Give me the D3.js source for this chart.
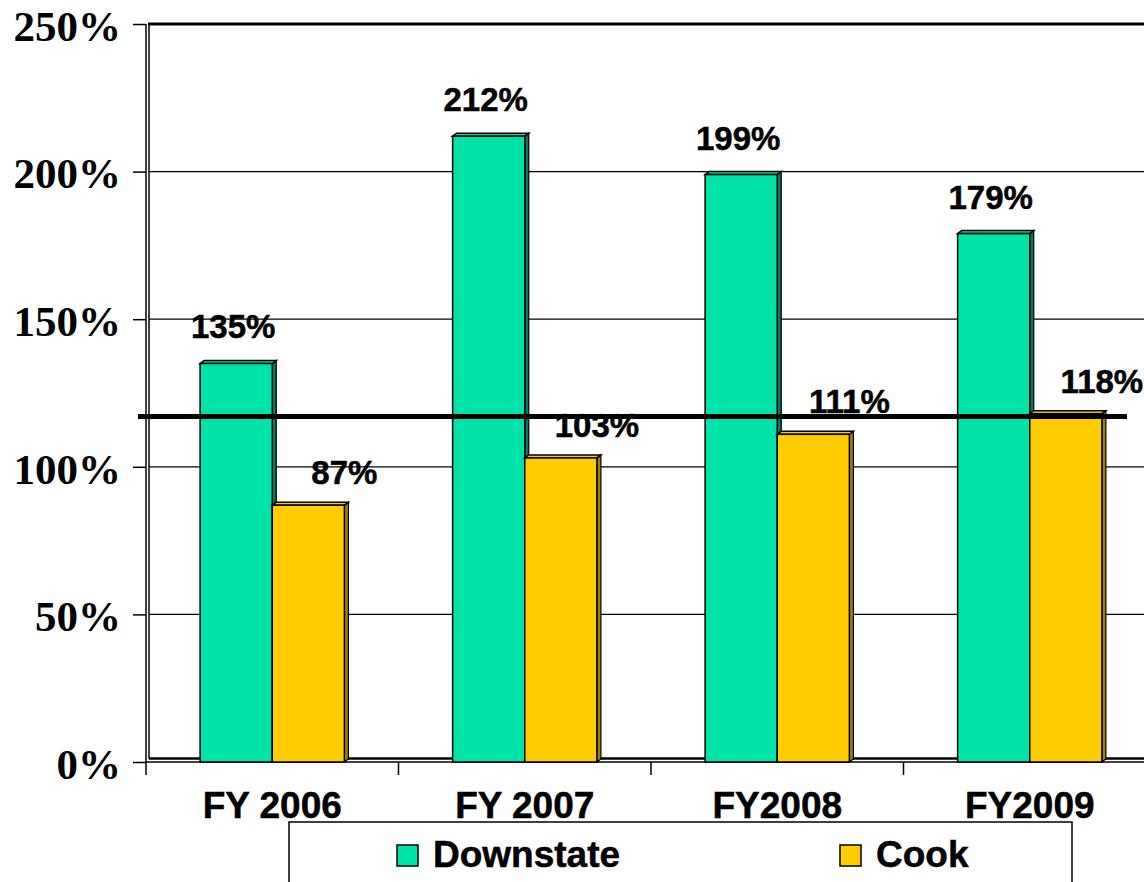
<!DOCTYPE html>
<html>
<head>
<meta charset="utf-8">
<script src="https://d3js.org/d3.v7.min.js"></script>
<style>
  body { margin: 0; background: #fff; }
  .tick-label { font-family: "Liberation Serif", "Times New Roman", serif; font-weight: bold; font-size: 43px; }
  .cat-label { font-family: "Liberation Sans", Arial, sans-serif; font-weight: bold; font-size: 37px; }
  .val-label { font-family: "Liberation Sans", Arial, sans-serif; font-weight: bold; font-size: 33px; }
  .legend-label { font-family: "Liberation Sans", Arial, sans-serif; font-weight: bold; font-size: 37px; }
  .cat-label, .val-label, .legend-label { stroke: #000; stroke-width: 0.5px; }
</style>
</head>
<body>
<div id="chart"></div>
<script>
// data
const categories = ["FY 2006", "FY 2007", "FY2008", "FY2009"];
const seriesNames = ["Downstate", "Cook"];
const downstate = [135, 212, 199, 179];
const cook = [87, 103, 111, 118];
const yTicks = [0, 50, 100, 150, 200, 250];
const targetValue = 117;

const colors = { Downstate: "#00E3A8", Cook: "#FFCC00" };
const sideColors = { Downstate: "#007A5C", Cook: "#A08200" };

const W = 1144, H = 882;
const left = 146, step = 252.5;
const depthX = 4, depthY = 3;

const svg = d3.select("#chart").append("svg")
  .attr("width", W).attr("height", H);

const x = d3.scaleBand()
  .domain(categories)
  .range([left, left + step * categories.length]);

const xs = d3.scaleBand()
  .domain(seriesNames)
  .range([0, x.bandwidth()])
  .paddingOuter(0.75);

const y = d3.scaleLinear().domain([0, 250]).range([762, 24]);

// gridlines (back wall)
svg.append("g").selectAll("line")
  .data(yTicks.filter(t => t > 0 && t < 250))
  .join("line")
  .attr("x1", left + 3).attr("x2", W)
  .attr("y1", d => y(d)).attr("y2", d => y(d))
  .attr("stroke", "#000").attr("stroke-width", 1.2);

// top edge
svg.append("line")
  .attr("x1", left + 2).attr("x2", W)
  .attr("y1", y(250)).attr("y2", y(250))
  .attr("stroke", "#000").attr("stroke-width", 3);

// back wall vertical + floor lines
svg.append("line")
  .attr("x1", left + 3).attr("x2", left + 3)
  .attr("y1", y(250)).attr("y2", y(0) - 3)
  .attr("stroke", "#000").attr("stroke-width", 1.5);
svg.append("line")
  .attr("x1", left + 3).attr("x2", W)
  .attr("y1", y(0) - 3.5).attr("y2", y(0) - 3.5)
  .attr("stroke", "#000").attr("stroke-width", 2.5);

// y axis
const yAxis = svg.append("g")
  .attr("transform", `translate(${left},0)`)
  .call(d3.axisLeft(y).tickValues(yTicks).tickSize(13).tickFormat(d => d + "%"));
yAxis.select(".domain").attr("stroke", "#000").attr("stroke-width", 1.5)
  .attr("d", `M0,${y(250)}V${y(0)}`);
yAxis.selectAll(".tick line").attr("stroke", "#000").attr("stroke-width", 1.5);
yAxis.selectAll(".tick text")
  .attr("class", "tick-label")
  .attr("x", -25).attr("dy", "0.38em")
  .attr("fill", "#000");

// x axis (ticks at category boundaries)
svg.append("line")
  .attr("x1", left).attr("x2", W)
  .attr("y1", y(0)).attr("y2", y(0))
  .attr("stroke", "#000").attr("stroke-width", 1.5);
svg.append("g").selectAll("line")
  .data(categories)
  .join("line")
  .attr("x1", d => x(d)).attr("x2", d => x(d))
  .attr("y1", y(0)).attr("y2", y(0) + 13)
  .attr("stroke", "#000").attr("stroke-width", 1.5);

svg.append("g").selectAll("text")
  .data(categories)
  .join("text")
  .attr("class", "cat-label")
  .attr("x", d => x(d) + x.bandwidth() / 2)
  .attr("y", 818)
  .attr("text-anchor", "middle")
  .text(d => d);

// bars
const rows = [];
categories.forEach((c, i) => {
  rows.push({ cat: c, series: "Downstate", value: downstate[i] });
  rows.push({ cat: c, series: "Cook", value: cook[i] });
});

const bars = svg.append("g").selectAll("g")
  .data(rows)
  .join("g");

bars.each(function (d) {
  const g = d3.select(this);
  const x0 = x(d.cat) + xs(d.series);
  const w = xs.bandwidth();
  const top = y(d.value), base = y(0);
  g.append("polygon")
    .attr("points", [[x0 + w, top], [x0 + w + depthX, top - depthY], [x0 + w + depthX, base - depthY], [x0 + w, base]].join(" "))
    .attr("fill", sideColors[d.series]).attr("stroke", "#000").attr("stroke-width", 1.2);
  g.append("polygon")
    .attr("points", [[x0, top], [x0 + depthX, top - depthY], [x0 + w + depthX, top - depthY], [x0 + w, top]].join(" "))
    .attr("fill", colors[d.series]).attr("stroke", "#000").attr("stroke-width", 1.5);
  g.append("rect")
    .attr("x", x0).attr("y", top).attr("width", w).attr("height", base - top)
    .attr("fill", colors[d.series]).attr("stroke", "#000").attr("stroke-width", 1.5);
});

// value labels
svg.append("g").selectAll("text")
  .data(rows)
  .join("text")
  .attr("class", "val-label")
  .attr("text-anchor", "middle")
  .attr("x", d => d.series === "Downstate"
    ? x(d.cat) + xs(d.series) + xs.bandwidth() / 2 - 3
    : x(d.cat) + xs(d.series) + xs.bandwidth())
  .attr("y", d => y(d.value) - (d.series === "Downstate" ? 25 : 21))
  .text(d => d.value + "%");

// target line
svg.append("line")
  .attr("x1", 138).attr("x2", 1127)
  .attr("y1", y(targetValue)).attr("y2", y(targetValue))
  .attr("stroke", "#000").attr("stroke-width", 5);

// legend
const legend = svg.append("g");
legend.append("rect")
  .attr("x", 289).attr("y", 822).attr("width", 783).attr("height", 80)
  .attr("fill", "#fff").attr("stroke", "#000").attr("stroke-width", 1.5);
const legendX = [397, 840];
seriesNames.forEach((s, i) => {
  legend.append("rect")
    .attr("x", legendX[i]).attr("y", 845).attr("width", 21).attr("height", 21)
    .attr("fill", colors[s]).attr("stroke", "#000").attr("stroke-width", 1.5);
  legend.append("text")
    .attr("class", "legend-label")
    .attr("x", legendX[i] + 36).attr("y", 867)
    .text(s);
});
</script>
</body>
</html>
